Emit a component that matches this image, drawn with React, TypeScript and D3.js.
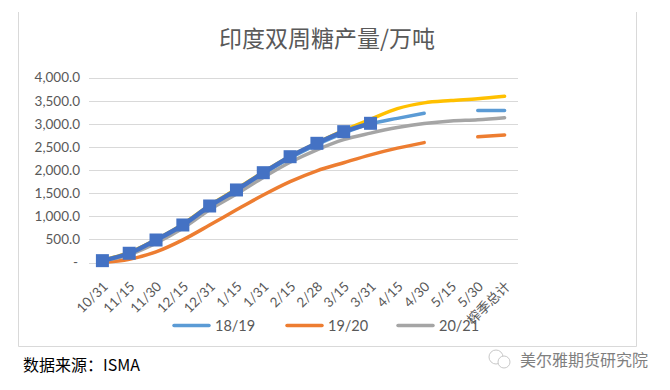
import { useEffect, useRef } from "react";
import * as d3 from "d3";

const categories = [
  "10/31", "11/15", "11/30", "12/15", "12/31", "1/15", "1/31", "2/15",
  "2/28", "3/15", "3/31", "4/15", "4/30", "5/15", "5/30", "榨季总计",
];

const s1819 = [30, 180, 470, 790, 1190, 1540, 1910, 2260, 2550, 2800, 3000, 3120, 3230, null, 3290, 3290];
const s1920 = [0, 70, 230, 490, 810, 1140, 1460, 1750, 1985, 2160, 2330, 2475, 2595, null, 2720, 2760];
const s2021 = [30, 170, 420, 740, 1140, 1480, 1840, 2170, 2440, 2660, 2800, 2920, 3010, 3065, 3090, 3135];
const s2122 = [50, 220, 500, 830, 1240, 1590, 1960, 2300, 2590, 2860, 3100, 3330, 3455, 3505, 3545, 3600];
const s2223 = [40, 200, 487, 812, 1223, 1570, 1944, 2290, 2580, 2832, 3013];

const yTicks = [0, 500, 1000, 1500, 2000, 2500, 3000, 3500, 4000];

const legendItems = [
  { name: "18/19", color: "#5b9bd5" },
  { name: "19/20", color: "#ed7d31" },
  { name: "20/21", color: "#a5a5a5" },
];

const FONT = "Lato, 'Noto Sans CJK SC', sans-serif";
const CJK = "'Noto Sans CJK SC', sans-serif";
const TXT = "#595959";

export default function App() {
  const svgRef = useRef<SVGSVGElement>(null);

  useEffect(() => {
    const svg = d3.select(svgRef.current);
    svg.selectAll("*").remove();

    // chart frame (no top edge visible)
    svg.append("path")
      .attr("d", "M18.5,12V346.5H636.5V12")
      .attr("fill", "none").attr("stroke", "#d9d9d9");

    svg.append("text")
      .attr("x", 327).attr("y", 47)
      .attr("text-anchor", "middle")
      .style("font-family", CJK)
      .style("font-size", "23px")
      .style("fill", TXT)
      .text("印度双周糖产量/万吨");

    const x = d3.scaleBand<string>().domain(categories).range([89, 518]);
    const y = d3.scaleLinear().domain([0, 4000]).range([262.5, 77.7]);
    const cx = (c: string) => x(c)! + x.bandwidth() / 2;

    const grid = svg.append("g");
    yTicks.forEach((t) => {
      grid.append("line")
        .attr("x1", 89).attr("x2", 518)
        .attr("y1", Math.round(y(t)) + 0.5).attr("y2", Math.round(y(t)) + 0.5)
        .attr("stroke", "#d9d9d9");
      grid.append("text")
        .attr("x", t === 0 ? 78 : 80).attr("y", y(t))
        .attr("dy", "0.35em")
        .attr("text-anchor", "end")
        .style("font-family", FONT).style("font-size", "13.5px")
        .style("fill", TXT)
        .text(t === 0 ? "-" : d3.format(",.1f")(t));
    });

    categories.forEach((c) => {
      svg.append("text")
        .attr("transform", `translate(${cx(c) + 3},${284}) rotate(-45)`)
        .attr("text-anchor", "end")
        .attr("dy", "0.35em")
        .style("font-family", FONT).style("font-size", "13.5px")
        .style("fill", TXT)
        .text(c);
    });

    const line = d3.line<number | null>()
      .defined((d) => d !== null)
      .x((_d, i) => cx(categories[i]))
      .y((d) => y(d as number))
      .curve(d3.curveMonotoneX);

    const series = [
      { data: s1819, color: "#5b9bd5", w: 3.5 },
      { data: s1920, color: "#ed7d31", w: 3.5 },
      { data: s2021, color: "#a5a5a5", w: 3.5 },
      { data: s2122, color: "#ffc000", w: 3.5 },
      { data: s2223, color: "#4472c4", w: 4.5 },
    ];
    series.forEach((s) => {
      svg.append("path")
        .datum(s.data)
        .attr("d", line)
        .attr("fill", "none")
        .attr("stroke", s.color)
        .attr("stroke-width", s.w)
        .attr("stroke-linecap", "round")
        .attr("stroke-linejoin", "round");
    });

    svg.append("g")
      .selectAll("rect")
      .data(s2223)
      .enter()
      .append("rect")
      .attr("x", (_d, i) => cx(categories[i]) - 6.5)
      .attr("y", (d) => y(d) - 6.5)
      .attr("width", 13).attr("height", 13)
      .attr("fill", "#4472c4");

    const lg = svg.append("g");
    const lx = [174, 287, 398];
    legendItems.forEach((it, i) => {
      lg.append("line")
        .attr("x1", lx[i]).attr("x2", lx[i] + 35)
        .attr("y1", 325.5).attr("y2", 325.5)
        .attr("stroke", it.color).attr("stroke-width", 3.5)
        .attr("stroke-linecap", "round");
      lg.append("text")
        .attr("x", lx[i] + 41).attr("y", 325.5)
        .attr("dy", "0.35em")
        .style("font-family", FONT).style("font-size", "14.5px")
        .style("fill", TXT)
        .text(it.name);
    });

    svg.append("text")
      .attr("x", 23).attr("y", 371)
      .style("font-family", CJK)
      .style("font-size", "16px")
      .style("fill", "#000")
      .text("数据来源：ISMA");

    const wm = svg.append("g").attr("transform", "translate(500,359)");
    wm.append("circle").attr("cx", -4).attr("cy", -2).attr("r", 7)
      .attr("fill", "none").attr("stroke", "#c8c8c8");
    wm.append("circle").attr("cx", 4).attr("cy", 3).attr("r", 6)
      .attr("fill", "#fff").attr("stroke", "#c8c8c8");
    svg.append("text")
      .attr("x", 520).attr("y", 366)
      .style("font-family", CJK)
      .style("font-size", "16px")
      .style("fill", "#7f7f7f")
      .text("美尔雅期货研究院");
  }, []);

  return (
    <svg
      ref={svgRef}
      width={670}
      height={390}
      style={{ position: "absolute", left: 0, top: 0, background: "#fff" }}
    />
  );
}
